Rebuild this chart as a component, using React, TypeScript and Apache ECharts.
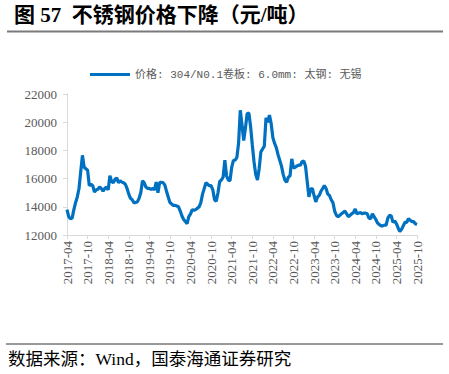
import React, { useEffect, useRef } from "react";
import * as echarts from "echarts";

const TITLE = "图 57  不锈钢价格下降（元/吨）";
const SOURCE = "数据来源：Wind，国泰海通证券研究";
const SERIES_NAME = "价格: 304/N0.1卷板: 6.0mm: 太钢: 无锡";
const START_YEAR = 2017;
const START_MONTH = 4;
const TICK_LABELS = [
  "2017-04", "2017-10", "2018-04", "2018-10", "2019-04", "2019-10",
  "2020-04", "2020-10", "2021-04", "2021-10", "2022-04", "2022-10",
  "2023-04", "2023-10", "2024-04", "2024-10", "2025-04", "2025-10",
];
// semi-monthly values, 2017-04 .. 2025-10
const PRICES = [
  13800, 13300, 13150, 13200, 13800, 14300, 14700, 15300, 16500, 17650,
  16800, 16700, 16600, 15500, 15600, 15500, 15050, 15200, 15250, 15400,
  15300, 15100, 15300, 15400, 15200, 16200, 15800, 15700, 15950, 16050,
  15700, 15850, 15750, 15700, 15600, 15300, 14900, 14600, 14500, 14300,
  14300, 14350, 14600, 15000, 15850, 15700, 15400, 15300, 15300, 15250,
  15300, 15200, 15750, 15000, 15700, 15750, 15700, 15550, 15100, 14700,
  14300, 14200, 14100, 14100, 14050, 14000, 13700, 13350, 13100, 12950,
  12800, 13300, 13500, 13800, 13750, 13800, 13900, 14000, 14300, 14900,
  15300, 15700, 15600, 15500, 15500, 15200, 14500, 14400, 15000, 15800,
  15900, 16100, 17300, 16200, 15900, 15850, 16800, 17300, 17300, 17500,
  18500, 20850, 19800, 18700, 19600, 20600, 20650, 19700, 18400, 17200,
  16300, 15900, 16700, 17900, 18100, 18300, 20300, 20000, 20500, 19900,
  18900, 18500, 18200, 17700, 17300, 16900, 16300, 15900, 15750, 16100,
  16200, 17400, 16750, 16800, 16900, 16950, 16950, 17200, 17250, 16900,
  15800, 14700, 15250, 15300, 14800, 14350, 14700, 14800, 15100, 15300,
  15500, 15300, 14900, 14800, 14500, 14300, 13700, 13400, 13300, 13400,
  13500, 13600, 13700, 13500, 13300, 13400, 13500, 13600, 13850, 13500,
  13550, 13600, 13500, 13550, 13550, 13500, 13200, 13150, 13500, 13300,
  13100, 12850, 12750, 12650, 12650, 12700, 12700, 13200, 13400, 13350,
  12900, 13000, 12800, 12500, 12250, 12400, 12650, 12900, 12900, 13150,
  13050, 12950, 12950, 12800, 12750,
];

const CATEGORIES = PRICES.map((_, i) => {
  const m = START_MONTH - 1 + Math.floor(i / 2);
  const y = START_YEAR + Math.floor(m / 12);
  const mm = String((m % 12) + 1).padStart(2, "0");
  return `${y}-${mm}-${i % 2 === 0 ? "01" : "16"}`;
});

const isTick = (_idx: number, val: string) =>
  val.endsWith("-01") && TICK_LABELS.includes(val.slice(0, 7));

export default function App() {
  const ref = useRef<HTMLDivElement>(null);
  useEffect(() => {
    if (!ref.current) return;
    const chart = echarts.init(ref.current, undefined, { renderer: "svg" });
    const serif = "'Liberation Serif', 'Noto Sans CJK SC', serif";
    const mono = "'Liberation Mono', 'Noto Sans CJK SC', monospace";
    chart.setOption({
      animation: false,
      backgroundColor: "#ffffff",
      graphic: [
        {
          type: "text",
          left: 14,
          top: 4,
          style: {
            text: TITLE,
            font: `bold 21px ${serif}`,
            fill: "#000000",
          },
        },
        {
          type: "line",
          shape: { x1: 7, y1: 31.5, x2: 443, y2: 31.5 },
          style: { stroke: "#7a7a7a", lineWidth: 1.8 },
        },
        {
          type: "line",
          shape: { x1: 6, y1: 344, x2: 443, y2: 344 },
          style: { stroke: "#333333", lineWidth: 1 },
        },
        {
          type: "text",
          left: 8,
          top: 350,
          style: {
            text: SOURCE,
            font: `17.5px ${serif}`,
            fill: "#000000",
          },
        },
      ],
      legend: {
        left: 90,
        top: 69,
        padding: 0,
        icon: "rect",
        itemWidth: 40,
        itemHeight: 3,
        itemGap: 4,
        textStyle: { fontFamily: mono, fontSize: 11, color: "#595959" },
        data: [SERIES_NAME],
      },
      grid: { left: 67, right: 32, top: 94, bottom: 139, containLabel: false },
      xAxis: {
        type: "category",
        boundaryGap: false,
        data: CATEGORIES,
        axisLine: { lineStyle: { color: "#d9d9d9", width: 1 } },
        axisTick: { interval: isTick, length: 4, lineStyle: { color: "#d9d9d9" } },
        axisLabel: {
          interval: isTick,
          rotate: 90,
          formatter: (v: string) => v.slice(0, 7),
          fontFamily: serif,
          fontSize: 13,
          color: "#595959",
          margin: 6,
        },
        splitLine: { show: false },
      },
      yAxis: {
        type: "value",
        min: 12000,
        max: 22000,
        interval: 2000,
        axisLine: { show: true, lineStyle: { color: "#d9d9d9", width: 1 } },
        axisTick: { show: true, length: 4, lineStyle: { color: "#d9d9d9" } },
        axisLabel: {
          fontFamily: serif,
          fontSize: 13,
          color: "#595959",
          margin: 10,
          formatter: (v: number) => String(v),
        },
        splitLine: { show: false },
      },
      series: [
        {
          name: SERIES_NAME,
          type: "line",
          data: PRICES,
          showSymbol: false,
          symbol: "none",
          lineStyle: { color: "#0070c0", width: 3.2 },
          itemStyle: { color: "#0070c0" },
        },
      ],
    });
    return () => chart.dispose();
  }, []);
  return (
    <div
      ref={ref}
      style={{ position: "fixed", left: 0, top: 0, width: 449, height: 374 }}
    />
  );
}
